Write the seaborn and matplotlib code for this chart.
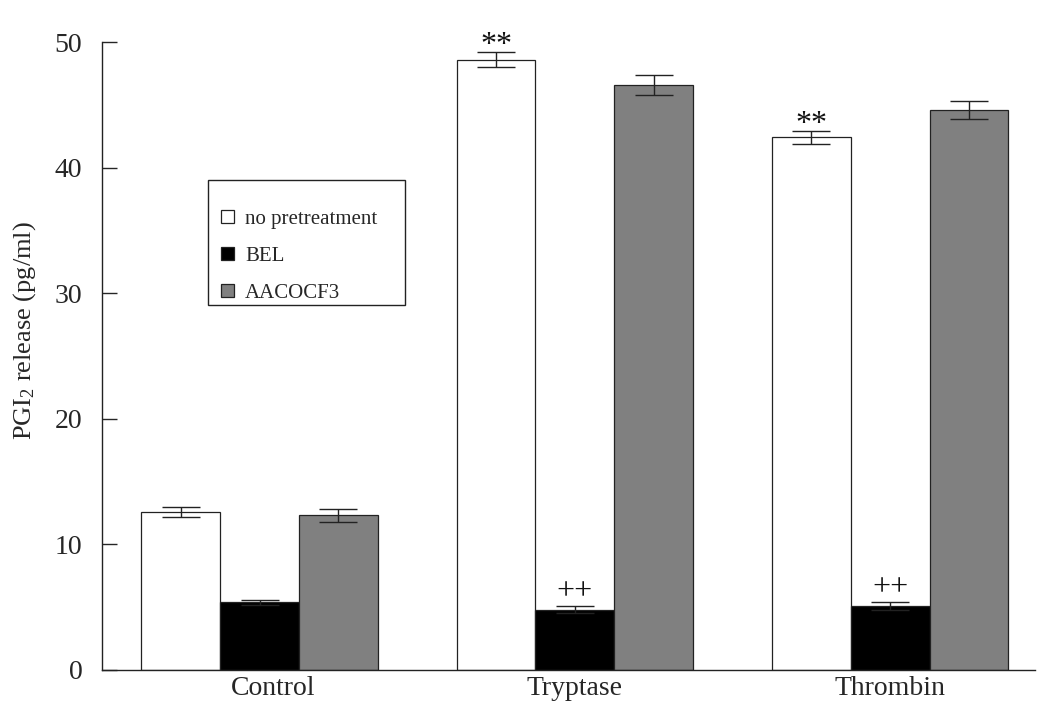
import pandas as pd
import numpy as np
import matplotlib.pyplot as plt
import matplotlib.transforms as mtransforms
from matplotlib.patches import Rectangle
import seaborn as sns

# dados
grupos = ["Control", "Tryptase", "Thrombin"]
tratamentos = ["no pretreatment", "BEL", "AACOCF3"]
valores = {
    "no pretreatment": [12.6, 48.6, 42.4],
    "BEL": [5.4, 4.8, 5.1],
    "AACOCF3": [12.3, 46.6, 44.6],
}
erros = {
    "no pretreatment": [0.4, 0.6, 0.5],
    "BEL": [0.2, 0.3, 0.3],
    "AACOCF3": [0.5, 0.8, 0.7],
}
marcas = {
    "no pretreatment": ["", "**", "**"],
    "BEL": ["", "++", "++"],
    "AACOCF3": ["", "", ""],
}
cores = ["#ffffff", "#000000", "#808080"]

linhas = []
for t in tratamentos:
    for i, g in enumerate(grupos):
        linhas.append({"grupo": g, "tratamento": t, "valor": valores[t][i]})
df = pd.DataFrame(linhas)

sns.set_style("ticks")
plt.rcParams['font.family'] = ['Liberation Serif', 'DejaVu Serif']
plt.rcParams['mathtext.fontset'] = 'custom'
plt.rcParams['mathtext.rm'] = 'Liberation Serif'
plt.rcParams['mathtext.it'] = 'Liberation Serif:italic'

fig = plt.figure(figsize=(10.5, 7.17), dpi=100)
ax = fig.add_axes([0.097, 0.0656, 0.889, 0.8758])

sns.barplot(data=df, x="grupo", y="valor", hue="tratamento", order=grupos,
            hue_order=tratamentos, palette=cores, width=0.75, gap=0,
            errorbar=None, edgecolor="#222222", linewidth=0.9, ax=ax)

# barras de erro e asteriscos
for j, t in enumerate(tratamentos):
    cont = ax.containers[j]
    for i, barra in enumerate(cont):
        xc = barra.get_x() + barra.get_width() / 2
        h = barra.get_height()
        e = erros[t][i]
        ax.errorbar(xc, h, yerr=e, fmt="none", ecolor="#222222",
                    elinewidth=1.0, capsize=14, capthick=1.0, zorder=3)
        m = marcas[t][i]
        if m:
            desloc = -0.1 if m == "**" else 0.55
            ax.text(xc, h + e + desloc, m, ha="center", va="baseline",
                    fontsize=23, color="#111111")

ax.set_xlim(-0.5, 2.46)
ax.set_ylim(0, 50)
ax.set_yticks([0, 10, 20, 30, 40, 50])
ax.tick_params(axis="y", direction="in", length=11, width=1, labelsize=20, pad=14)
ax.tick_params(axis="x", length=0, labelsize=20, pad=4)
ax.set_xlabel("")
ax.set_ylabel("PGI$_2$ release (pg/ml)", fontsize=19)
ax.yaxis.set_label_coords(-0.0686, 0.54)
sns.despine(ax=ax)
for s in ["left", "bottom"]:
    ax.spines[s].set_color("#222222")
    ax.spines[s].set_linewidth(1.0)

# rotulo "Control" um pouco deslocado para a direita, como no original
desl = mtransforms.ScaledTranslation(14 / 100, 0, fig.dpi_scale_trans)
rot0 = ax.get_xticklabels()[0]
rot0.set_transform(rot0.get_transform() + desl)

# legenda sem moldura + moldura desenhada a parte
leg = ax.legend(loc="upper left", bbox_to_anchor=(0.1275, 0.7325), borderaxespad=0,
                fontsize=15, handlelength=0.62, handleheight=0.62, handletextpad=0.55,
                labelspacing=0.85, borderpad=0, frameon=False)
ax.add_patch(Rectangle((0.1136, 0.5812), 0.2111, 0.1991, transform=ax.transAxes,
                       fill=False, edgecolor="#222222", linewidth=1.0, zorder=5))

fig.savefig("out.png", dpi=100)
